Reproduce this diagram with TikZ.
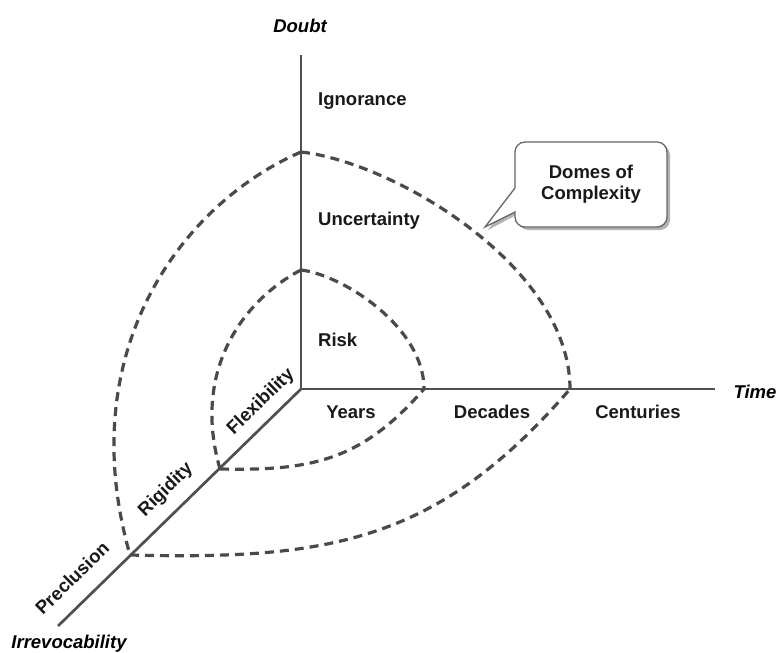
\documentclass[tikz,border=0pt]{standalone}
\usepackage{fontspec}
\setmainfont{Liberation Sans}
\definecolor{axisgray}{HTML}{505050}
\definecolor{domegray}{HTML}{4A4A4A}
\begin{document}
\begin{tikzpicture}[x=1pt,y=-1pt,
  axisline/.style={draw=axisgray,line width=2.7pt},
  dome/.style={draw=domegray,line width=3.2pt,dash pattern=on 9pt off 6pt},
  lbl/.style={font=\fontsize{18.5}{21}\selectfont\bfseries,text=black!90,inner sep=0pt},
  axlbl/.style={font=\fontsize{18.5}{21}\selectfont\bfseries\itshape,text=black,inner sep=0pt},
  rlbl/.style={lbl,rotate=44.3}]
\useasboundingbox (0,0) rectangle (777,653);
% axes
\coordinate (O) at (301,389);
\coordinate (Ytop) at (301,55);
\coordinate (Xend) at (715,389);
\coordinate (Zend) at (58,626);
\draw[axisline] (Ytop) -- (O) -- (Xend);
\draw[axisline] (O) -- (Zend);
% dome points
\coordinate (iy) at (301,270);
\coordinate (ix) at (424,389);
\coordinate (iz) at (220,469);
\coordinate (oy) at (301,152);
\coordinate (ox) at (570,389);
\coordinate (oz) at (130,555);
% inner dome
\draw[dome] (iy) .. controls (343,275) and (424,327) .. (ix);
\draw[dome] (iy) .. controls (245,299) and (191,369) .. (iz);
\draw[dome] (iz) .. controls (313,471) and (362,460) .. (ix);
% outer dome
\draw[dome] (oy) .. controls (393,162) and (570,266) .. (ox);
\draw[dome] (oy) .. controls (185,202) and (71,348) .. (oz);
\draw[dome] (oz) .. controls (329,560) and (438,542) .. (ox);
% axis labels
\node[axlbl] (doubt) at (300,26) {Doubt};
\node[axlbl] (time) at (755,392) {Time};
\node[axlbl] (irrev) at (69,644) {Irrevocability};
% vertical labels
\node[lbl,anchor=west] (ign) at (318,101) {Ignorance};
\node[lbl,anchor=west] (unc) at (318,221) {Uncertainty};
\node[lbl,anchor=west] (risk) at (318,340) {Risk};
% time labels
\node[lbl] (years) at (351,412) {Years};
\node[lbl] (decades) at (492,412) {Decades};
\node[lbl] (cent) at (638,412) {Centuries};
% depth labels
\node[rlbl] (flex) at (261,402) {Flexibility};
\node[rlbl] (rig) at (166,490) {Rigidity};
\node[rlbl] (prec) at (72,578) {Preclusion};
% callout
\coordinate (tip) at (485,227);
\fill[black!30] (518,145) [rounded corners=10pt] -- (670,145) -- (670,230) -- (518,230) [sharp corners] -- (518,214) -- (488,230) -- (516,190) [rounded corners=10pt] -- cycle;
\draw[draw=black!60,fill=white,line width=1.3pt] (515,142) [rounded corners=10pt] -- (667,142) -- (667,227) -- (515,227) [sharp corners] -- (515,212) -- (tip) -- (515,188) [rounded corners=10pt] -- cycle;
\node[lbl,align=center] (domes) at (591,184) {Domes of\\Complexity};
\end{tikzpicture}
\end{document}
